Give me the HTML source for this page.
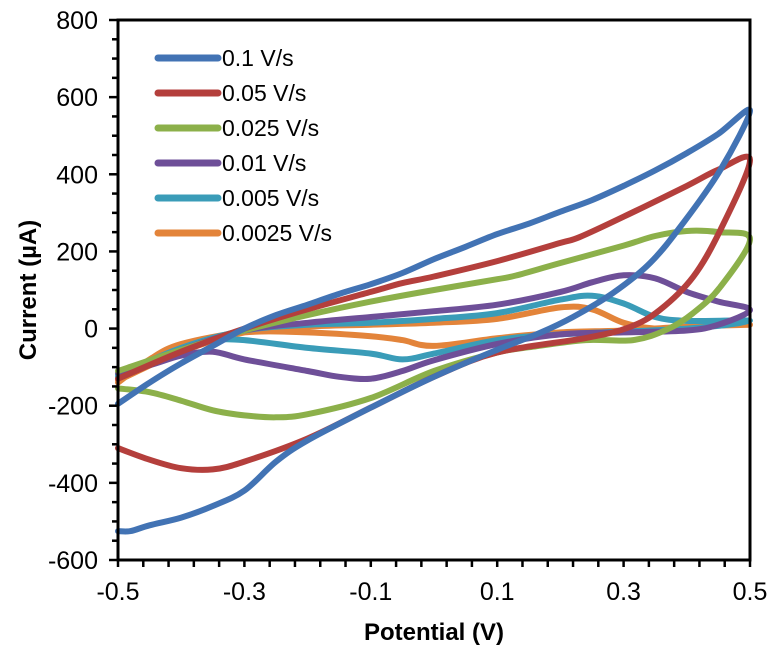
<!DOCTYPE html>
<html><head><meta charset="utf-8"><style>
html,body{margin:0;padding:0;background:#fff;}
svg{display:block;font-family:"Liberation Sans",Arial,sans-serif;}
</style></head><body>
<svg id="chart" width="776" height="658" viewBox="0 0 776 658" xmlns="http://www.w3.org/2000/svg">
<g id="plot"></g>
<g id="axes"></g>
<g id="legend"></g>
<text x="434" y="640" text-anchor="middle" font-size="24" font-weight="bold">Potential (V)</text>
<text transform="translate(36,290) rotate(-90)" text-anchor="middle" font-size="24" font-weight="bold">Current (µA)</text>
</svg>
<script>
const seriesNames = ["0.1 V/s","0.05 V/s","0.025 V/s","0.01 V/s","0.005 V/s","0.0025 V/s"];
const seriesColors = ["#4273b4","#b43f3c","#8cb04a","#6e4f98","#3a9cb8","#e3843a"];
const xTicks = [-0.5,-0.3,-0.1,0.1,0.3,0.5];
const yTicks = [-600,-400,-200,0,200,400,600,800];
const blueV = [-0.5,-0.45,-0.4,-0.35,-0.3,-0.25,-0.2,-0.15,-0.1,-0.05,0,0.05,0.1,0.15,0.2,0.25,0.3,0.35,0.4,0.45,0.5, 0.453,0.394,0.342,0.283,0.22,0.168,0.1,0,-0.1,-0.2,-0.25,-0.3,-0.35,-0.4,-0.45,-0.48,-0.5];
const blueI = [-195,-140,-90,-45,0,35,62,90,115,144,180,212,245,272,303,333,370,410,455,505,565, 411,273,170,92,30,-11,-55,-125,-205,-290,-345,-420,-460,-490,-510,-525,-525];
const redV = [-0.5,-0.4,-0.3,-0.2,-0.1,-0.05,0,0.1,0.2,0.23,0.3,0.4,0.45,0.5, 0.453,0.41,0.357,0.31,0.242,0.1,0,-0.1,-0.2,-0.3,-0.35,-0.4,-0.45,-0.5];
const redI = [-130,-60,0,50,95,118,135,175,222,237,290,370,412,437, 255,134,48,4,-24,-62,-125,-205,-285,-345,-365,-362,-340,-310];
const greenV = [-0.5,-0.4,-0.3,-0.2,-0.1,0,0.1,0.131,0.2,0.3,0.35,0.4,0.45,0.5, 0.453,0.41,0.368,0.315,0.24,0.157,0.1,0,-0.1,-0.2,-0.25,-0.3,-0.35,-0.4,-0.45,-0.5];
const greenI = [-110,-55,-5,35,70,100,128,138,170,215,240,253,250,232, 108,40,-3,-30,-30,-47,-62,-110,-180,-222,-230,-225,-212,-187,-165,-155];
const purpleV = [-0.5,-0.4,-0.3,-0.2,-0.1,0,0.1,0.2,0.25,0.3,0.35,0.4,0.45,0.5, 0.45,0.4,0.3,0.2,0.1,0,-0.05,-0.1,-0.15,-0.2,-0.3,-0.35,-0.4,-0.45,-0.5];
const purpleI = [-115,-55,-5,15,30,45,62,95,120,138,130,95,70,48, 10,-5,-10,-15,-40,-82,-110,-130,-125,-110,-80,-60,-70,-95,-110];
const cyanV = [-0.5,-0.4,-0.3,-0.2,-0.1,0,0.1,0.2,0.25,0.3,0.35,0.4,0.5, 0.4,0.2,0.1,0,-0.05,-0.1,-0.2,-0.3,-0.35,-0.4,-0.45,-0.5];
const cyanI = [-120,-50,-5,10,15,25,40,75,85,65,30,20,20, 0,-15,-30,-65,-80,-65,-50,-30,-30,-50,-90,-125];
const orangeV = [-0.5,-0.4,-0.3,-0.2,-0.1,0,0.1,0.2,0.25,0.3,0.35,0.4,0.5, 0.4,0.3,0.2,0.1,0,-0.05,-0.1,-0.2,-0.3,-0.4,-0.45,-0.5];
const orangeI = [-135,-60,-10,5,10,15,25,55,50,15,0,5,10, 5,-5,-10,-25,-45,-30,-20,-10,-10,-40,-80,-140];
const seriesV = [blueV,redV,greenV,purpleV,cyanV,orangeV];
const seriesI = [blueI,redI,greenI,purpleI,cyanI,orangeI];

const NS="http://www.w3.org/2000/svg";
const L=118,R=750,T=20,B=560;
const xs=v=>L+(v+0.5)/1.0*(R-L);
const ys=i=>B-(i+600)/1400*(B-T);
function mk(tag,attrs,parent){const e=document.createElementNS(NS,tag);for(const k in attrs)e.setAttribute(k,attrs[k]);parent.appendChild(e);return e;}
function smooth(pts){
  let d="M"+pts[0][0].toFixed(1)+","+pts[0][1].toFixed(1);
  for(let i=0;i<pts.length-1;i++){
    const p0=pts[Math.max(0,i-1)],p1=pts[i],p2=pts[i+1],p3=pts[Math.min(pts.length-1,i+2)];
    const c1=[p1[0]+(p2[0]-p0[0])/6,p1[1]+(p2[1]-p0[1])/6];
    const c2=[p2[0]-(p3[0]-p1[0])/6,p2[1]-(p3[1]-p1[1])/6];
    d+=" C"+c1[0].toFixed(1)+","+c1[1].toFixed(1)+" "+c2[0].toFixed(1)+","+c2[1].toFixed(1)+" "+p2[0].toFixed(1)+","+p2[1].toFixed(1);
  }
  return d;
}
const plot=document.getElementById('plot');
for(let s=seriesV.length-1;s>=0;s--){
  const pts=seriesV[s].map((v,k)=>[xs(v),ys(seriesI[s][k])]);
  const p=mk('path',{d:smooth(pts),fill:'none',stroke:seriesColors[s],'stroke-width':6,'stroke-linejoin':'round','stroke-linecap':'round'},plot);
  
  
}
const axes=document.getElementById('axes');
const frame=mk('rect',{x:L,y:T,width:R-L,height:B-T,fill:'none',stroke:'#000','stroke-width':3},axes);


for(let v=-600;v<=800;v+=50){
  const major=(v%200===0);
  const t=mk('line',{x1:L-(major?9:6),x2:L,y1:ys(v),y2:ys(v),stroke:'#000','stroke-width':2.5},axes);
  
  
}
yTicks.forEach(v=>{
  const t=mk('text',{x:L-20,y:ys(v)+9,'text-anchor':'end','font-size':25},axes);
  t.textContent=v;
  
  
});
for(let k=0;k<=25;k++){
  const v=-0.5+k*0.04;
  const t=mk('line',{x1:xs(v),x2:xs(v),y1:B,y2:B+7,stroke:'#000','stroke-width':2.5},axes);
  
  
}
xTicks.forEach(v=>{
  const t=mk('text',{x:xs(v),y:B+40,'text-anchor':'middle','font-size':25},axes);
  t.textContent=v.toFixed(1);
  
  
});
const lg=document.getElementById('legend');
seriesNames.forEach((n,s)=>{
  const y=58+s*35;
  const g=mk('g',{},lg);
  
  
  mk('line',{x1:158,x2:218,y1:y,y2:y,stroke:seriesColors[s],'stroke-width':7,'stroke-linecap':'round'},g);
  const t=mk('text',{x:222,y:y+8,'font-size':23},g);
  t.textContent=n;
});
</script>
</body></html>
